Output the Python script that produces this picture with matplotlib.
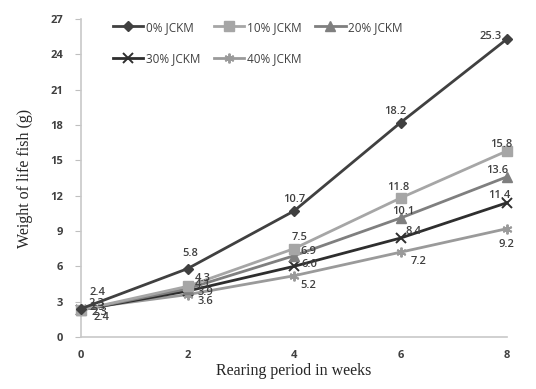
import matplotlib
matplotlib.use("Agg")
import matplotlib.pyplot as plt

# Данные
weeks = [0, 2, 4, 6, 8]
series_names = ['0% JCKM', '10% JCKM', '20% JCKM', '30% JCKM', '40% JCKM']
w_0 = [2.4, 5.8, 10.7, 18.2, 25.3]
w_10 = [2.3, 4.3, 7.5, 11.8, 15.8]
w_20 = [2.3, 4.1, 6.9, 10.1, 13.6]
w_30 = [2.3, 3.9, 6.0, 8.4, 11.4]
w_40 = [2.4, 3.6, 5.2, 7.2, 9.2]
y_ticks = [0, 3, 6, 9, 12, 15, 18, 21, 24, 27]
x_ticks = [0, 2, 4, 6, 8]

# Стили
colors = ['#404040', '#a6a6a6', '#7f7f7f', '#2e2e2e', '#9a9a9a']
markers = ['D', 's', '^', 'x', (6, 2, 0)]
msizes = [5, 7, 7, 7, 7]
# смещения подписей (пиксели) для каждой точки
offsets = [
    [(17, 16), (3, 15), (0, 11), (-5, 11), (-16, 3)],
    [(15, 6), (15, 8), (6, 11), (-2, 11), (-6, 6)],
    [(16, 2), (15, 4), (14, 4), (3, 7), (-10, 6)],
    [(18, -3), (18, -1), (15, 2), (13, 7), (-8, 7)],
    [(21, -9), (18, -7), (14, -10), (18, -9), (-1, -16)],
]

fig = plt.figure(figsize=(5.36, 3.89), dpi=100)
ax = fig.add_axes([81 / 536, 1 - 337 / 389, 426 / 536, 318 / 389])

all_series = [w_0, w_10, w_20, w_30, w_40]
for i, vals in enumerate(all_series):
    ax.plot(weeks, vals, color=colors[i], linewidth=2.0, marker=markers[i],
            markersize=msizes[i], markeredgewidth=1.4 if i >= 3 else 1,
            label=series_names[i], clip_on=False, zorder=3 + (4 - i) * 0.1)
    for j, v in enumerate(vals):
        dx, dy = offsets[i][j]
        ax.annotate(f'{v:.1f}', (weeks[j], v), xytext=(dx * 0.72, dy * 0.72),
                    textcoords='offset points', ha='center', va='center',
                    fontsize=8, color='#404040', fontfamily='Open Sans',
                    fontweight='semibold', zorder=5)

ax.set_xlim(0, 8)
ax.set_ylim(0, 27)
ax.set_xticks(x_ticks)
ax.set_yticks(y_ticks)
ax.tick_params(axis='x', length=0, pad=9, labelsize=8, labelcolor='#404040')
ax.tick_params(axis='y', length=4, width=0.8, color='#bfbfbf', pad=9,
               labelsize=8, labelcolor='#404040')
for lab in ax.get_xticklabels() + ax.get_yticklabels():
    lab.set_fontfamily('Open Sans')
    lab.set_fontweight('bold')

for side in ['top', 'right']:
    ax.spines[side].set_visible(False)
for side in ['left', 'bottom']:
    ax.spines[side].set_color('#c8c8c8')
    ax.spines[side].set_linewidth(1.2)

ax.set_xlabel('Rearing period in weeks', fontfamily='Liberation Serif',
              fontsize=11.5, color='#262626', labelpad=2)
ax.set_ylabel('Weight of life fish (g)', fontfamily='Liberation Serif',
              fontsize=11.5, color='#262626', labelpad=12)

# Легенда по строкам: 0%, 10%, 20% / 30%, 40%
handles, labels = ax.get_legend_handles_labels()
order = [0, 3, 1, 4, 2]
leg = ax.legend([handles[k] for k in order], [labels[k] for k in order],
                ncol=3, loc='upper left', bbox_to_anchor=(102 / 536, 1 - 10 / 389),
                bbox_transform=fig.transFigure, frameon=False, handlelength=2.6,
                handletextpad=0.2, columnspacing=1.15, labelspacing=1.55,
                prop={'family': 'Open Sans', 'size': 8.5})
for t in leg.get_texts():
    t.set_color('#404040')

plt.savefig('out.png', dpi=100)
plt.close(fig)
